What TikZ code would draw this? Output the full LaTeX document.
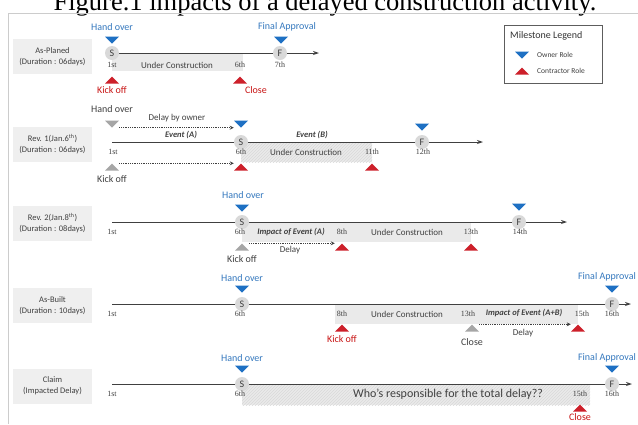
\documentclass[tikz,border=0pt]{standalone}
\usepackage{fontspec}
\setmainfont{Carlito}
\newfontfamily\dayfont{Liberation Serif}
\newfontfamily\titlefont{Liberation Serif}
\usetikzlibrary{arrows.meta,patterns}
\definecolor{ownerblue}{RGB}{30,112,195}
\definecolor{bluetext}{RGB}{52,120,190}
\definecolor{contred}{RGB}{205,32,42}
\definecolor{redtext}{RGB}{200,20,20}
\definecolor{darktext}{RGB}{64,64,64}
\definecolor{tgray}{RGB}{166,166,166}
\definecolor{boxfill}{RGB}{239,239,239}
\definecolor{bandfill}{RGB}{234,234,234}
\definecolor{circfill}{RGB}{217,217,217}
\tikzset{
  tri/.style={inner sep=0pt, minimum width=14pt, minimum height=7pt},
  downtri/.style={tri, path picture={\fill[#1] (path picture bounding box.north west) -- (path picture bounding box.north east) -- (path picture bounding box.south) -- cycle;}},
  uptri/.style={tri, path picture={\fill[#1] (path picture bounding box.south west) -- (path picture bounding box.south east) -- (path picture bounding box.north) -- cycle;}},
  owner/.style={downtri=ownerblue},
  ownergray/.style={downtri=tgray},
  contractor/.style={uptri=contred},
  contgray/.style={uptri=tgray},
  ms/.style={circle, fill=circfill, minimum size=14pt, inner sep=0pt, font=\fontsize{10}{10}\selectfont, text=darktext},
  day/.style={font=\dayfont\fontsize{8}{8}\selectfont, text=darktext, inner sep=1pt},
  lbl/.style={font=\fontsize{10}{10}\selectfont, inner sep=1pt},
  bluelbl/.style={lbl, text=bluetext},
  redlbl/.style={lbl, text=redtext},
  graylbl/.style={lbl, text=darktext},
  body/.style={font=\fontsize{9}{9}\selectfont, text=darktext, inner sep=1pt},
  evt/.style={font=\fontsize{8.5}{8.5}\selectfont\bfseries\itshape, text=darktext, inner sep=1pt},
  rowbox/.style={fill=boxfill, minimum width=79pt, minimum height=35pt, align=center, font=\fontsize{8.5}{11}\selectfont, text=darktext, inner sep=1pt},
  timeline/.style={draw=darktext, line width=0.9pt, -{Stealth[length=6pt,width=4pt]}},
  dotarrow/.style={draw=darktext, densely dotted, line width=0.8pt, -{Stealth[length=4pt,width=4pt]}},
  band/.style={fill=bandfill},
  hatchband/.style={fill=bandfill, postaction={pattern=north east lines, pattern color=gray!30}},
}
\begin{document}
\begin{tikzpicture}[x=1pt,y=-1pt]
\useasboundingbox (0,0) rectangle (638,424);
\fill[white] (0,0) rectangle (638,424);
% title (partly cut by the top edge, as in the reference)
\node[font=\titlefont\fontsize{26.5}{26.5}\selectfont, anchor=base, inner sep=0pt] (title) at (325,10) {Figure.1 impacts of a delayed construction activity.};
\draw[gray!40, line width=0.6pt] (8,424) -- (8,13) -- (638,13);

% row boxes
\node[rowbox] (box1) at (52.5,56.5) {As-Planed\\(Duration : 06days)};
\node[rowbox] (box2) at (52.5,144.5) {Rev. 1(Jan.6\textsuperscript{th})\\(Duration : 06days)};
\node[rowbox] (box3) at (52.5,223.5) {Rev. 2(Jan.8\textsuperscript{th})\\(Duration : 08days)};
\node[rowbox] (box4) at (52.5,305.5) {As-Built\\(Duration : 10days)};
\node[rowbox] (box5) at (52.5,386) {Claim\\(Impacted Delay)};

% legend
\node[draw=darktext!85, line width=0.8pt, minimum width=98pt, minimum height=58pt, anchor=north west, inner sep=0pt] (legend) at (504,25) {};
\node[font=\fontsize{10}{10}\selectfont, text=black!80, anchor=west, inner sep=0pt] (legtitle) at (510,36) {Milestone Legend};
\node[owner] (legowner) at (522,55) {};
\node[font=\fontsize{7.5}{7.5}\selectfont, text=darktext, anchor=west, inner sep=0pt] (legownert) at (537,55) {Owner Role};
\node[contractor] (legcont) at (522,71) {};
\node[font=\fontsize{7.5}{7.5}\selectfont, text=darktext, anchor=west, inner sep=0pt] (legcontt) at (537,71) {Contractor Role};

% ---------- Row 1: As-Planed ----------
\fill[band] (112,53) rectangle (243,71);
\coordinate (r1a) at (112,53);
\coordinate (r1b) at (319,53);
\draw[timeline] (r1a) -- (r1b);
\node[ms] (s1) at (112,53) {S};
\node[ms] (f1) at (280,53) {F};
\node[owner] (o1s) at (112,40) {};
\node[owner] (o1f) at (281,40) {};
\node[bluelbl] (h1) at (112,27) {Hand over};
\node[bluelbl] (fa1) at (287,27) {Final Approval};
\node[day] (d1a) at (112,65) {1st};
\node[day] (d1b) at (240,65) {6th};
\node[day] (d1c) at (280,65) {7th};
\node[body] (uc1) at (177,65) {Under Construction};
\node[contractor] (c1a) at (112,80) {};
\node[contractor] (c1b) at (240,80) {};
\node[redlbl] (k1) at (112,90) {Kick off};
\node[redlbl] (cl1) at (256,90) {Close};

% ---------- Row 2: Rev. 1 ----------
\node[graylbl] (h2) at (112,109) {Hand over};
\node[ownergray] (g2h) at (112,124) {};
\node[owner] (o2s) at (241,124) {};
\draw[dotarrow] (g2h.south east) -- (o2s.south west);
\node[body] (dbo) at (177,118) {Delay by owner};
\fill[hatchband] (241,142) rectangle (372,162);
\coordinate (r2a) at (112,142);
\coordinate (r2b) at (483,142);
\draw[timeline] (r2a) -- (r2b);
\node[ms] (s2) at (241,142) {S};
\node[ms] (f2) at (422,142) {F};
\node[owner] (o2f) at (422,127) {};
\node[evt] (ea) at (181,135) {Event (A)};
\node[evt] (eb) at (312,135) {Event (B)};
\node[day] (d2a) at (113,152) {1st};
\node[day] (d2b) at (241,152) {6th};
\node[day] (d2c) at (372,152) {11th};
\node[day] (d2d) at (423,152) {12th};
\node[body] (uc2) at (306,152) {Under Construction};
\node[contgray] (g2k) at (112,167) {};
\node[contractor] (c2s) at (241,167) {};
\node[contractor] (c2e) at (372,167) {};
\draw[dotarrow] (g2k.north east) -- (c2s.north west);
\node[graylbl] (k2) at (112,179) {Kick off};

% ---------- Row 3: Rev. 2 ----------
\node[bluelbl] (h3) at (243,195) {Hand over};
\node[owner] (o3s) at (242,208) {};
\fill[band] (242,222) rectangle (471,242);
\coordinate (r3a) at (112,222);
\coordinate (r3b) at (567,222);
\draw[timeline] (r3a) -- (r3b);
\node[ms] (s3) at (242,222) {S};
\node[ms] (f3) at (519,222) {F};
\node[owner] (o3f) at (519,207) {};
\node[day] (d3a) at (112,232) {1st};
\node[day] (d3b) at (240,232) {6th};
\node[day] (d3c) at (342,232) {8th};
\node[day] (d3d) at (471,232) {13th};
\node[day] (d3e) at (520,232) {14th};
\node[evt] (ia) at (291,232) {Impact of Event (A)};
\node[body] (uc3) at (407,232) {Under Construction};
\node[contgray] (g3k) at (242,247) {};
\node[contractor] (c3a) at (342,247) {};
\node[contractor] (c3b) at (471,247) {};
\draw[dotarrow] (g3k.north east) -- (c3a.north west);
\node[body] (dl3) at (290,250) {Delay};
\node[graylbl] (k3) at (242,259) {Kick off};

% ---------- Row 4: As-Built ----------
\node[bluelbl] (h4) at (242,278) {Hand over};
\node[owner] (o4s) at (242,289) {};
\fill[band] (335,304) rectangle (578,324);
\coordinate (r4a) at (112,304);
\coordinate (r4b) at (631,304);
\draw[timeline] (r4a) -- (r4b);
\node[ms] (s4) at (242,304) {S};
\node[ms] (f4) at (612,304) {F};
\node[owner] (o4f) at (612,289) {};
\node[bluelbl] (fa4) at (607,277) {Final Approval};
\node[day] (d4a) at (112,314) {1st};
\node[day] (d4b) at (240,314) {6th};
\node[day] (d4c) at (342,314) {8th};
\node[day] (d4d) at (468,314) {13th};
\node[day] (d4e) at (582,314) {15th};
\node[day] (d4f) at (612,314) {16th};
\node[body] (uc4) at (407,314) {Under Construction};
\node[evt] (iab) at (524,313) {Impact of Event (A+B)};
\node[contractor] (c4k) at (342,328) {};
\node[redlbl] (k4) at (342,339) {Kick off};
\node[contgray] (g4c) at (472,328) {};
\node[graylbl] (cl4) at (472,342) {Close};
\node[contractor] (c4e) at (578,328) {};
\draw[dotarrow] (g4c.north east) -- (c4e.north west);
\node[body] (dl4) at (523,333) {Delay};

% ---------- Row 5: Claim ----------
\node[bluelbl] (h5) at (242,358) {Hand over};
\node[owner] (o5s) at (242,369) {};
\fill[hatchband] (242,385) rectangle (590,405);
\coordinate (r5a) at (112,384);
\coordinate (r5b) at (632,384);
\draw[timeline] (r5a) -- (r5b);
\node[ms] (s5) at (242,384) {S};
\node[ms] (f5) at (612,384) {F};
\node[owner] (o5f) at (612,369) {};
\node[bluelbl] (fa5) at (607,358) {Final Approval};
\node[day] (d5a) at (112,394) {1st};
\node[day] (d5b) at (240,394) {6th};
\node[day] (d5c) at (580,394) {15th};
\node[day] (d5d) at (612,394) {16th};
\node[font=\fontsize{12}{12}\selectfont, text=darktext, inner sep=1pt] (who) at (448,394) {Who's responsible for the total delay??};
\node[contractor] (c5) at (580,408) {};
\node[redlbl] (cl5) at (580,417.5) {Close};
\end{tikzpicture}
\end{document}
